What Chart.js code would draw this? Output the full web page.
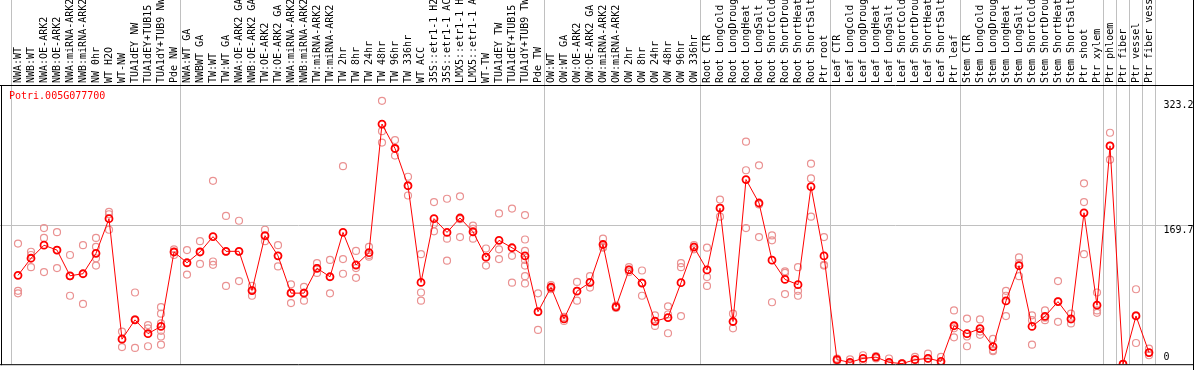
<!DOCTYPE html>
<html><head><meta charset="utf-8">
<script src="https://cdn.jsdelivr.net/npm/chart.js@4/dist/chart.umd.min.js"></script>
<style>html,body{margin:0;padding:0;background:#fff;overflow:hidden}#wrap{width:1194px;height:370px;position:relative}canvas{display:block}</style>
</head><body><div id="wrap"><canvas id="c" width="1194" height="370"></canvas></div>
<script>
const geneName = 'Potri.005G077700';
const categories = [
 'NWA:WT','NWB:WT','NWA:OE-ARK2','NWB:OE-ARK2','NWA:miRNA-ARK2','NWB:miRNA-ARK2','NW 0hr','WT H2O','WT-NW','TUA1dEY NW','TUA1dEY+TUB15 NW','TUA1dY+TUB9 NW','Pde NW',
 'NWA:WT GA','NWBWT GA','TW:WT','TW:WT GA','NWA:OE-ARK2 GA','NWB:OE-ARK2 GA','TW:OE-ARK2','TW:OE-ARK2 GA','NWA:miRNA-ARK2 GA','NWB:miRNA-ARK2 GA','TW:miRNA-ARK2','TW:miRNA-ARK2 GA',
 'TW 2hr','TW 8hr','TW 24hr','TW 48hr','TW 96hr','TW 336hr','WT ACC','35S::etr1-1 H2O','35S::etr1-1 ACC','LMX5::etr1-1 H2O','LMX5::etr1-1 ACC','WT-TW','TUA1dEY TW','TUA1dEY+TUB15 TW','TUA1dY+TUB9 TW','Pde TW',
 'OW:WT','OW:WT GA','OW:OE-ARK2','OW:OE-ARK2 GA','OW:miRNA-ARK2','OW:miRNA-ARK2 GA','OW 2hr','OW 8hr','OW 24hr','OW 48hr','OW 96hr','OW 336hr',
 'Root CTR','Root LongCold','Root LongDrought','Root LongHeat','Root LongSalt','Root ShortCold','Root ShortDrought','Root ShortHeat','Root ShortSalt','Ptr root',
 'Leaf CTR','Leaf LongCold','Leaf LongDrought','Leaf LongHeat','Leaf LongSalt','Leaf ShortCold','Leaf ShortDrought','Leaf ShortHeat','Leaf ShortSalt','Ptr leaf',
 'Stem CTR','Stem LongCold','Stem LongDrought','Stem LongHeat','Stem LongSalt','Stem ShortCold','Stem ShortDrought','Stem ShortHeat','Stem ShortSalt','Ptr shoot','Ptr xylem',
 'Ptr phloem','Ptr fiber','Ptr vessel','Ptr fiber vessel'
];
const groupSizes = [13, 28, 12, 10, 10, 11, 1, 1, 1, 1];
const means = [
 109, 130, 146, 140, 108.5, 111, 136, 178.6, 30.7, 54.4, 37.5, 46.4, 137.7,
 124.5, 137.7, 156.5, 138.5, 138.5, 90.4, 157.7, 133, 87.2, 87.2, 117.7, 107.3, 161.7, 121.7, 136.9, 294.7, 264.7, 219, 100.4, 178.6, 161.7, 179.4, 162.5, 131.3, 152, 142.9, 132.9, 64.4,
 94.4, 55.6, 89.6, 100.4, 146.9, 70.4, 115.7, 99.6, 52.8, 57.2, 100, 143.7,
 115.7, 191.4, 52.4, 226.6, 197.8, 127.7, 104, 97.6, 217.8, 132.9,
 5.5, 2.3, 7.1, 8.7, 2.3, 0.7, 5.5, 7.1, 3.5, 47.2,
 37.5, 43.6, 21.5, 77.6, 120.9, 46.4, 58.8, 76.8, 55.6, 185.8, 72.4,
 267.9, 0, 59.2, 14.3
];
const replicates = [
 [148,90,87],[138,134,119],[167,155,113],[162,140,118],[134,108,84],[146,111,74],[155,144,130,121],[187,184,165],[40,31,21],[88,55,20],[48,44,22],[70,62,50,41,34,24],[141,138,134],
 [140,124,110],[151,138,123],[225,126,122],[182,138,96],[176,138,102],[96,91,84],[165,157,151],[146,133,120],[98,88,75],[95,88,78],[124,118,112],[128,107,87],
 [243,129,111],[139,118,106],[144,134,132],[323.2,286,272],[275,265,256],[230,219,207],[135,88,78],[199,172,163],[203,154,127],[206,178,156],[170,166,154],[142,131,121],[185,141,129],[191,133,100],[183,153,139,128,121,108,99],[87,64,42],
 [97,94,92],[58,56,53],[101,90,78],[108,100,94],[154,144,143],[72,70,69],[119,116,113],[115,100,84],[60,52,47],[71,61,38],[124,119,59],[146,144,141],
 [143,107,96],[202,192,181],[62,52,44],[273,238,167],[244,196,156],[158,152,76],[114,112,86],[119,90,84],[246,228,181],[156,122,121],
 [7,5,4],[6,1,0],[11,7,4],[10,9,7],[7,0,0],[1,0,1],[9,6,2],[13,7,2],[9,1,1],[66,44,33],
 [56,34,22],[55,40,36],[31,17,16],[90,84,59],[131,124,108],[60,54,24],[66,57,54],[102,77,52],[62,55,50],[222,199,135],[88,66,63],
 [284,268,251],[0,0,0],[92,60,26],[19,14,11]
];
const yTickValues = [0, 169.7, 323.2];
const yTickLabels = ['0', '169.7', '323.2'];
const yMax = 342.6;

const repPoints = [];
replicates.forEach((arr, i) => arr.forEach(v => repPoints.push({x: categories[i], y: v})));

const MONO = '"DejaVu Sans Mono", "Liberation Mono", monospace';

const framePlugin = {
  id: 'frame',
  beforeDraw(chart) {
    const ctx = chart.ctx;
    ctx.save(); ctx.fillStyle = '#fff'; ctx.fillRect(0, 0, chart.width, chart.height); ctx.restore();
  },
  beforeDatasetsDraw(chart) {
    const {ctx, chartArea: a, scales: {x, y}} = chart;
    ctx.save();
    ctx.strokeStyle = '#c0c0c0'; ctx.lineWidth = 1;
    const lines = [a.left];
    let idx = 0;
    groupSizes.forEach(n => {
      idx += n;
      if (idx < categories.length) lines.push((x.getPixelForTick(idx - 1) + x.getPixelForTick(idx)) / 2);
      else lines.push(a.right);
    });
    lines.forEach(px => { const p = Math.floor(px) + 0.5; ctx.beginPath(); ctx.moveTo(p, 0); ctx.lineTo(p, a.bottom); ctx.stroke(); });
    const gy = Math.floor(y.getPixelForValue(yTickValues[1])) + 0.5;
    ctx.beginPath(); ctx.moveTo(0, gy); ctx.lineTo(chart.width, gy); ctx.stroke();
    // category labels, rotated, starting just above the plot frame
    ctx.fillStyle = '#000'; ctx.font = '10px ' + MONO;
    ctx.textAlign = 'left'; ctx.textBaseline = 'middle';
    categories.forEach((lab, i) => {
      ctx.save();
      ctx.translate(x.getPixelForTick(i), a.top - 2);
      ctx.rotate(-Math.PI / 2);
      ctx.fillText(lab, 0, 0);
      ctx.restore();
    });
    ctx.restore();
  },
  afterDatasetsDraw(chart) {
    const {ctx, chartArea: a, scales: {y}} = chart;
    ctx.save();
    ctx.strokeStyle = '#000'; ctx.lineWidth = 1;
    ctx.beginPath();
    ctx.moveTo(0, 85.5); ctx.lineTo(chart.width, 85.5);
    ctx.moveTo(1.5, 85); ctx.lineTo(1.5, a.bottom + 1);
    ctx.moveTo(0, a.bottom + 0.5); ctx.lineTo(chart.width, a.bottom + 0.5);
    ctx.moveTo(chart.width - 0.5, 0); ctx.lineTo(chart.width - 0.5, chart.height);
    ctx.stroke();
    ctx.font = '10px ' + MONO;
    ctx.fillStyle = '#ff0000'; ctx.textAlign = 'left'; ctx.textBaseline = 'top';
    ctx.fillText(geneName, 9, 91);
    ctx.fillStyle = '#000';
    yTickValues.forEach((v, i) => {
      const py = y.getPixelForValue(v);
      if (py + 12 > a.bottom) { ctx.textBaseline = 'alphabetic'; ctx.fillText(yTickLabels[i], a.right + 8, a.bottom - 4); }
      else { ctx.textBaseline = 'top'; ctx.fillText(yTickLabels[i], a.right + 8, py); }
    });
    ctx.restore();
  }
};

new Chart(document.getElementById('c'), {
  type: 'line',
  data: {
    labels: categories,
    datasets: [
      {
        label: 'mean', data: means, order: 0,
        borderColor: '#ff0000', borderWidth: 1, tension: 0,
        pointStyle: 'circle', pointRadius: 3.5, pointBorderWidth: 1.8,
        pointBorderColor: '#ff0000', pointBackgroundColor: 'rgba(0,0,0,0)'
      },
      {
        label: 'replicates', data: repPoints, order: 1, showLine: false,
        pointStyle: 'circle', pointRadius: 3.5, pointBorderWidth: 1.2,
        pointBorderColor: 'rgb(234,146,146)', pointBackgroundColor: 'rgba(0,0,0,0)'
      }
    ]
  },
  options: {
    responsive: false, animation: false, devicePixelRatio: 1,
    layout: { padding: { left: 11.5, right: 0, top: 0, bottom: 1 } },
    plugins: { legend: { display: false }, tooltip: { enabled: false }, title: { display: false } },
    scales: {
      x: {
        type: 'category', position: 'top', offset: true,
        grid: { display: false, drawTicks: false }, border: { display: false },
        ticks: { display: false, autoSkip: false },
        afterFit(s) { s.height = 85; }
      },
      y: {
        position: 'right', min: 0, max: yMax,
        grid: { display: false }, border: { display: false },
        ticks: { display: false },
        afterFit(s) { s.width = 38.5; }
      }
    }
  },
  plugins: [framePlugin]
});
</script>
</body></html>
